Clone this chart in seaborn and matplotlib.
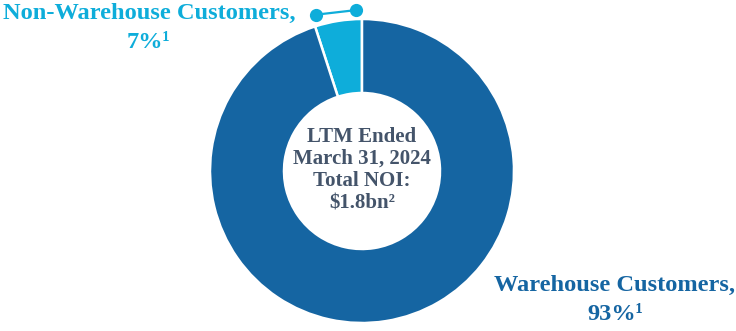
import numpy as np
import matplotlib
matplotlib.use("Agg")
import matplotlib.pyplot as plt
import seaborn as sns

# ---- data ----
segments = ["Non-Warehouse Customers", "Warehouse Customers"]
shares = [5.0, 95.0]            # visual share of the ring as drawn
label_texts = ["Non-Warehouse Customers,\n7%\u00b9", "Warehouse Customers,\n93%\u00b9"]
center_lines = ["LTM Ended", "March 31, 2024", "Total NOI:", "$1.8bn\u00b2"]

colors = ["#0EADDA", "#1565A2"]
text_gray = "#44546A"

sns.set_theme(style="white")
plt.rcParams["font.family"] = ["Liberation Serif", "DejaVu Serif"]

W, H = 736, 331
fig = plt.figure(figsize=(W / 100, H / 100), dpi=100)
ax = fig.add_axes([0, 0, 1, 1])

cx, cy = 362, H - 171
R, r_in = 152, 78
wedges, _ = ax.pie(shares, colors=colors, startangle=90, counterclock=True,
                   radius=R, center=(cx, cy), frame=True,
                   wedgeprops=dict(width=R - r_in, edgecolor="white", linewidth=1.8))
ax.set_xlim(0, W)
ax.set_ylim(0, H)
ax.set_aspect("equal")
ax.axis("off")

# leader with two dots above the small wedge
w = wedges[0]
a2 = np.deg2rad(w.theta1 + 2.2)
a1 = np.deg2rad(w.theta2 - 1.5)
p2 = (cx + 161 * np.cos(a2), cy + 161 * np.sin(a2))
p1 = (cx + 163 * np.cos(a1), cy + 163 * np.sin(a1))
ax.plot([p1[0], p2[0]], [p1[1], p2[1]], color=colors[0], lw=1.6,
        marker="o", markersize=9.5, markeredgewidth=0, clip_on=False)

# labels
ax.text(149, H - 2.5, label_texts[0], ha="center", va="top", color=colors[0],
        fontsize=17.6, fontweight="bold", linespacing=1.5)
ax.text(615, H - 275, label_texts[1], ha="center", va="top", color=colors[1],
        fontsize=17.6, fontweight="bold", linespacing=1.5)

ax.text(cx, cy + 1, "\n".join(center_lines), ha="center", va="center",
        color=text_gray, fontsize=15, fontweight="bold", linespacing=1.15)

fig.savefig("out.png", dpi=100)
